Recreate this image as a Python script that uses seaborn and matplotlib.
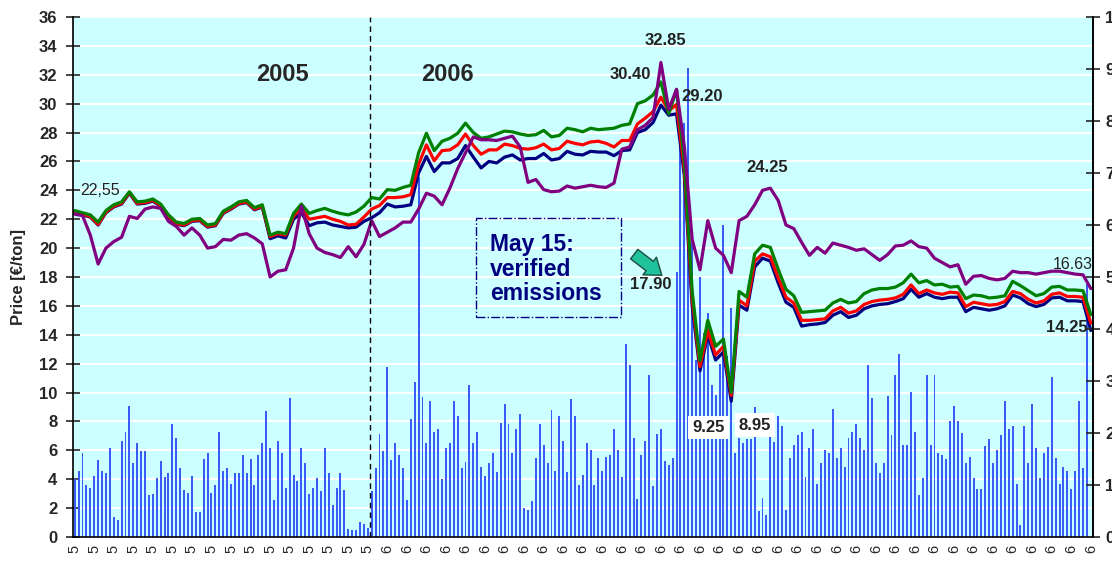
import numpy as np
import pandas as pd
import matplotlib
matplotlib.use('Agg')
import matplotlib.pyplot as plt
from matplotlib.patches import Rectangle
import seaborn as sns

# daily traded volume (bars) in price-axis units
volume = [
    # 2005
    4.0, 4.55, 5.8, 3.6, 3.4, 4.2, 5.35, 4.55, 4.4, 6.15, 1.4, 1.15, 6.65, 7.25, 9.05, 5.1,
    6.5, 5.95, 5.95, 2.9, 3.0, 4.05, 5.25, 4.15, 4.4, 7.8, 6.85, 4.75, 3.25, 3.05, 4.2, 1.7,
    1.75, 5.4, 5.8, 3.05, 3.6, 7.25, 4.55, 4.75, 3.7, 4.4, 4.4, 5.65, 4.4, 5.4, 3.6, 5.65,
    6.5, 8.7, 6.15, 2.55, 6.65, 5.8, 3.4, 9.65, 4.3, 3.9, 6.15, 5.1, 3.0, 3.4, 4.05, 3.15,
    6.15, 4.4, 2.2, 3.4, 4.4, 3.25, 0.55, 0.5, 0.5, 1.05, 0.9, 0.65,
    # 2006
    3.2, 4.75, 7.1, 5.95, 11.75, 5.35, 6.5,
    5.65, 4.75, 2.55, 8.15, 10.7, 24.9, 9.7, 6.5, 9.4, 7.3, 7.45, 4.0, 6.15, 6.5, 9.4, 8.4,
    4.75, 5.2, 10.5, 6.5, 7.3, 4.85, 4.2, 5.1, 5.8, 4.5, 7.9, 9.2, 7.8, 5.8, 7.45, 8.5,
    2.0, 1.85, 2.5, 5.45, 7.8, 6.4, 5.15, 8.8, 4.55, 8.35, 6.65, 4.5, 9.55, 8.35, 3.6, 4.3,
    6.5, 6.0, 3.6, 5.45, 4.55, 5.55, 5.7, 7.45, 6.0, 4.15, 13.35, 11.9, 6.85, 2.65, 5.65, 6.65,
    11.2, 3.5, 7.1, 7.45, 5.25, 4.95, 5.45,
    18.35, 27.0, 28.65, 32.45, 20.45, 12.25, 18.0, 14.1, 15.5, 10.5, 9.85, 12.0, 21.6, 12.5,
    15.85, 5.8, 6.85, 6.5, 6.8, 6.8, 9.0, 1.8, 2.7, 1.55, 7.65, 6.55, 8.35, 7.65, 1.9, 5.45, 6.35,
    7.05, 7.25, 4.15, 6.15, 7.45, 3.7, 5.1, 6.05, 5.8, 8.85, 5.5, 6.15, 4.85, 6.85, 7.25, 7.8,
    6.85, 6.05, 11.9, 9.65, 5.15, 4.4, 5.1, 9.75, 7.05, 11.2, 12.65, 6.4, 6.35, 10.05, 7.25, 2.9,
    4.05, 11.2, 6.4, 11.2, 5.8, 5.7, 5.4, 8.0, 9.05, 8.0, 7.2, 5.15, 5.55, 4.05, 3.3, 3.35,
    6.3, 6.8, 5.15, 6.05, 7.05, 9.4, 7.45, 7.65, 3.65, 0.85, 7.65, 5.15, 9.2, 6.15, 4.05, 5.8,
    6.2, 11.1, 5.45, 3.65, 4.85, 4.6, 3.3, 4.55, 9.4, 4.75, 17.5,
]
bar_days = list(range(len(volume)))

# price lines, sampled every second trading day
line_days = list(range(0, 261, 2))

price_green = [
    22.6, 22.45, 22.3, 21.8, 22.6, 23.0, 23.2, 23.9, 23.2, 23.25, 23.4, 23.05, 22.3, 21.8, 21.7, 22.0,
    22.05, 21.6, 21.7, 22.55, 22.85, 23.2,
    23.3, 22.8, 23.0, 20.9, 21.1, 21.0, 22.4, 23.05, 22.4, 22.6, 22.75, 22.55, 22.4, 22.3, 22.5, 22.9,
    23.5, 23.4, 24.05, 24.0, 24.2, 24.35,
    26.6, 27.95, 26.75, 27.4, 27.6, 27.95, 28.65, 28.0, 27.6, 27.7, 27.9, 28.1, 28.05, 27.9, 27.8, 27.85,
    28.15, 27.7, 27.8, 28.3, 28.2,
    28.05, 28.3, 28.2, 28.25, 28.3, 28.5, 28.6, 30.0, 30.2, 30.6, 31.5, 29.3, 30.95, 26.0, 17.0, 12.2,
    15.0, 13.2, 13.7, 10.0, 17.0, 16.6,
    19.6, 20.2, 20.05, 18.55, 17.15, 16.7, 15.55, 15.6, 15.65, 15.7, 16.2, 16.45, 16.2, 16.3, 16.85, 17.1,
    17.2, 17.2, 17.3, 17.6, 18.2, 17.6,
    17.75, 17.45, 17.5, 17.3, 17.35, 16.5, 16.75, 16.7, 16.55, 16.6, 16.7, 17.7, 17.4, 17.05, 16.7, 16.85,
    17.3, 17.35, 17.1, 17.1, 17.05, 15.4,
]
price_red = [
    22.5, 22.35, 22.2, 21.65, 22.5, 22.9, 23.1, 23.85, 23.1, 23.15, 23.3, 22.95, 22.2, 21.7, 21.6, 21.9,
    21.95, 21.5, 21.6, 22.45, 22.75, 23.1,
    23.2, 22.7, 22.9, 20.8, 21.0, 20.9, 22.2, 22.8, 22.0, 22.1, 22.2, 22.0, 21.85, 21.6, 21.65, 22.15,
    22.7, 22.95, 23.5, 23.5, 23.55, 23.7,
    25.8, 27.15, 26.05, 26.75, 26.8, 27.15, 27.9, 27.1, 26.5, 26.8, 26.8, 27.2, 27.1, 26.9, 26.85, 26.95,
    27.2, 26.8, 26.9, 27.4, 27.25,
    27.15, 27.35, 27.4, 27.25, 27.0, 27.45, 27.45, 28.6, 29.0, 29.45, 30.45, 29.5, 29.95, 25.4, 16.5, 11.8,
    14.3, 12.6, 13.2, 9.8, 16.4, 16.0,
    19.1, 19.6, 19.4, 17.95, 16.6, 16.2, 15.0, 15.0, 15.05, 15.1, 15.65, 15.9, 15.5, 15.65, 16.1, 16.3,
    16.4, 16.45, 16.55, 16.8, 17.45, 16.85,
    17.1, 16.9, 16.8, 16.95, 16.9, 15.95, 16.25, 16.15, 16.05, 16.1, 16.3, 17.0, 16.85, 16.45, 16.2, 16.35,
    16.8, 16.9, 16.65, 16.65, 16.6, 14.8,
]
price_navy = [
    22.45, 22.3, 22.15, 21.6, 22.45, 22.85, 23.05, 23.8, 23.05, 23.1, 23.25, 22.9, 22.15, 21.65, 21.55, 21.85,
    21.9, 21.45, 21.55, 22.4, 22.7, 23.05,
    23.15, 22.65, 22.85, 20.65, 20.85, 20.7, 22.0, 22.45, 21.55, 21.75, 21.8, 21.6, 21.5, 21.4, 21.45, 21.85,
    22.1, 22.45, 23.05, 22.85, 22.9, 23.0,
    25.2, 26.35, 25.3, 25.9, 25.9, 26.2, 27.1, 26.3, 25.55, 26.0, 25.9, 26.3, 26.45, 26.1, 26.2, 26.2,
    26.55, 26.1, 26.2, 26.7, 26.5,
    26.45, 26.7, 26.65, 26.65, 26.4, 26.75, 26.8, 28.0, 28.2, 28.7, 29.9, 29.2, 29.3, 25.0, 16.0, 11.5,
    14.0, 12.25, 12.8, 9.4, 16.05, 15.7,
    18.7, 19.3, 19.1, 17.6, 16.25, 15.9, 14.6, 14.7, 14.75, 14.85, 15.35, 15.6, 15.2, 15.35, 15.8, 16.0,
    16.1, 16.15, 16.3, 16.5, 17.15, 16.6,
    16.85, 16.6, 16.5, 16.6, 16.6, 15.6, 15.9, 15.8, 15.7, 15.8, 16.0, 16.75, 16.55, 16.15, 15.95, 16.1,
    16.55, 16.6, 16.35, 16.35, 16.3, 14.3,
]
price_purple = [
    22.35, 22.25, 20.9, 18.9, 20.0, 20.45, 20.75, 22.2, 22.05, 22.7, 22.85, 22.75, 21.85, 21.5, 20.9, 21.4,
    20.9, 20.0, 20.1, 20.6, 20.55, 20.9,
    21.0, 20.7, 20.3, 18.0, 18.4, 18.5, 20.0, 22.9, 21.0, 20.0, 19.7, 19.55, 19.35, 20.1, 19.4, 20.25,
    21.9, 20.8, 21.1, 21.4, 21.8, 21.8,
    22.7, 23.8, 23.6, 23.0, 24.15, 25.5, 26.6, 27.7, 27.5, 27.5, 27.45, 27.6, 27.75, 27.0, 24.55, 24.75,
    24.05, 23.9, 23.95, 24.3, 24.15,
    24.25, 24.35, 24.25, 24.2, 24.5, 26.85, 27.0, 28.2, 28.5, 29.05, 32.85, 29.6, 31.0, 27.0, 20.6, 18.5,
    21.9, 20.0, 19.5, 18.3, 21.9, 22.2,
    23.0, 24.0, 24.15, 23.3, 21.6, 21.35, 20.4, 19.5, 20.05, 19.65, 20.35, 20.2, 20.05, 19.85, 19.95, 19.55,
    19.15, 19.55, 20.15, 20.2, 20.5, 20.1,
    20.0, 19.3, 19.0, 18.7, 18.85, 17.5, 18.05, 18.1, 17.9, 17.8, 17.9, 18.4, 18.3, 18.3, 18.2, 18.3,
    18.4, 18.4, 18.3, 18.2, 18.15, 17.2,
]

# x tick labels (last digit of the year), one every five trading days
tick_labels = ['5'] * 16 + ['6'] * 37

bars = pd.DataFrame({'day': bar_days, 'volume': volume})
lines = pd.concat([
    pd.DataFrame({'day': line_days, 'price': price_navy, 'series': 'navy'}),
    pd.DataFrame({'day': line_days, 'price': price_red, 'series': 'red'}),
    pd.DataFrame({'day': line_days, 'price': price_green, 'series': 'green'}),
    pd.DataFrame({'day': line_days, 'price': price_purple, 'series': 'purple'}),
])
line_colors = {'navy': '#000080', 'red': '#FF0000', 'green': '#008000', 'purple': '#800080'}

sns.set_style('white')
plt.rcParams['font.family'] = ['Liberation Sans', 'DejaVu Sans']

fig = plt.figure(figsize=(11.12, 5.61), dpi=100)
ax = fig.add_axes([0.0654, 0.0428, 0.9173, 0.9269])
ax.set_facecolor('#CCFFFF')
ax.set_axisbelow(True)

sns.barplot(data=bars, x='day', y='volume', native_scale=True, color='#3a5cf5',
            saturation=1, width=0.5, linewidth=0, ax=ax)
sns.lineplot(data=lines, x='day', y='price', hue='series', hue_order=['navy', 'red', 'green', 'purple'],
             palette=line_colors, linewidth=2.3, estimator=None, legend=False, ax=ax)

ax.set_xlim(-0.5, 260.5)
ax.set_ylim(0, 36)
ax.set_yticks(np.arange(0, 37, 2))
ax.yaxis.grid(True, color='white', linewidth=1.5)
ax.xaxis.grid(False)
ax.set_xticks(np.arange(0, 261, 5))
ax.set_xticklabels(tick_labels, rotation=90, fontsize=10.5)
ax.set_xticks(np.arange(0, 261, 1), minor=True)
ax.tick_params(axis='x', which='both', direction='out', length=4, width=1, pad=2)
ax.tick_params(axis='y', direction='inout', length=10, width=1.2, labelsize=12, pad=6)
for lab in ax.get_yticklabels():
    lab.set_fontweight('bold')
ax.set_xlabel('')
ax.set_ylabel('Price [€/ton]', fontsize=12, fontweight='bold')
ax.yaxis.set_label_coords(-0.046, 0.5)
for side in ['left', 'bottom', 'right']:
    ax.spines[side].set_color('black')
    ax.spines[side].set_linewidth(1.2)
ax.spines['top'].set_visible(False)

# right-hand axis (volume scale)
ax2 = ax.twinx()
ax2.set_ylim(0, 10)
ax2.set_yticks(range(11))
ax2.grid(False)
ax2.tick_params(axis='y', direction='inout', length=10, width=1.2, labelsize=12, pad=4)
for lab in ax2.get_yticklabels():
    lab.set_fontweight('bold')
for side in ['left', 'bottom', 'top']:
    ax2.spines[side].set_visible(False)
ax2.spines['right'].set_color('black')
ax2.spines['right'].set_linewidth(1.2)

# year separator and labels
ax.axvline(75.6, color='black', linestyle=(0, (4, 3)), linewidth=1)
ax.text(53.1, 32.0, '2005', fontsize=17, fontweight='bold', ha='center', va='center')
ax.text(95.3, 32.0, '2006', fontsize=17, fontweight='bold', ha='center', va='center')

# price annotations
ax.text(1.4, 24.0, '22,55', fontsize=11.5, ha='left', va='center', color='#222222')
num_style = dict(fontsize=12, fontweight='bold', ha='center', va='center', color='#222222')
ax.text(142.1, 32.0, '30.40', **num_style)
ax.text(151.1, 34.4, '32.85', **num_style)
ax.text(160.6, 30.5, '29.20', **num_style)
ax.text(177.2, 25.6, '24.25', **num_style)
ax.text(147.5, 17.5, '17.90', **num_style)
ax.text(162.1, 7.6, '9.25', bbox=dict(fc='white', ec='none', pad=3), **num_style)
ax.text(174.1, 7.75, '8.95', bbox=dict(fc='white', ec='none', pad=3), **num_style)
ax.text(260.5, 18.85, '16.63', fontsize=11.5, ha='right', va='center', color='#222222')
ax.text(259.2, 14.5, '14.25', fontsize=12, fontweight='bold', ha='right', va='center', color='#222222')

# May 15 box and arrow
ax.add_patch(Rectangle((102.7, 15.2), 37.1, 6.9, fill=False, edgecolor='#000080',
                       linestyle='-.', linewidth=1))
ax.text(106.3, 18.55, 'May 15:\nverified\nemissions', fontsize=16.5, fontweight='bold',
        color='#000080', ha='left', va='center', linespacing=1.1)
ax.annotate('', xy=(150.8, 18.0), xytext=(142.6, 19.7),
            arrowprops=dict(arrowstyle='simple,head_length=0.55,head_width=0.8,tail_width=0.43',
                            mutation_scale=20, fc='#1fc29a', ec='#1d4d40', lw=1))

fig.savefig('out.png', dpi=100)
